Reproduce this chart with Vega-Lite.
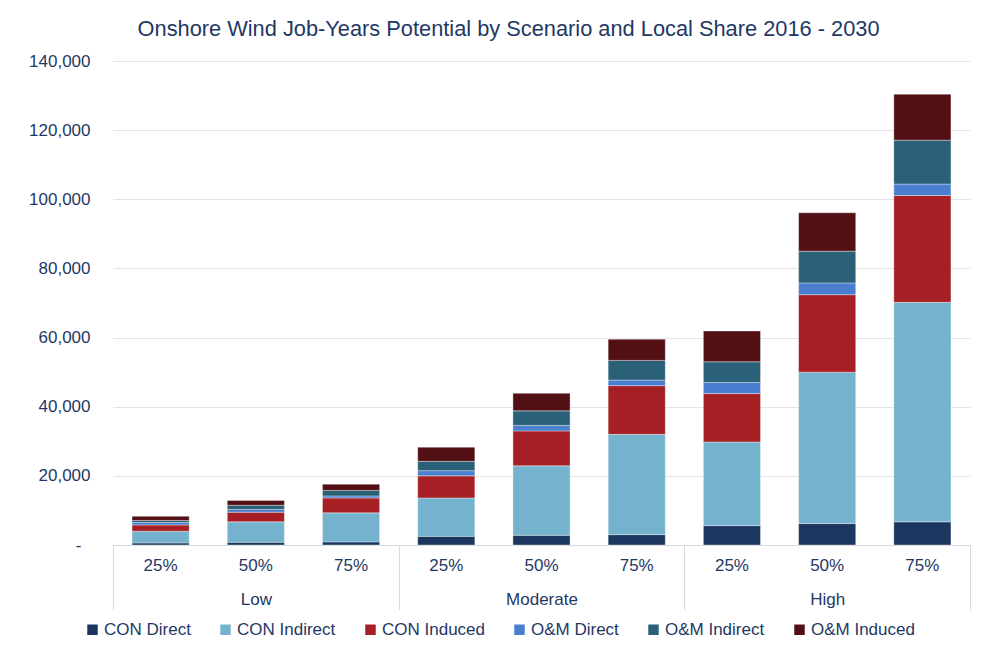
{
  "$schema": "https://vega.github.io/schema/vega-lite/v6.json",
  "autosize": {"type": "none"},
  "width": 857,
  "height": 484,
  "padding": {"left": 113, "top": 61, "right": 17, "bottom": 103},
  "background": "white",
  "title": {
    "text": "Onshore Wind Job-Years Potential by Scenario and Local Share 2016 - 2030",
    "anchor": "start",
    "dx": 109,
    "offset": 11,
    "font": "Liberation Sans",
    "fontSize": 21.8,
    "fontWeight": "normal",
    "color": "#1f3864"
  },
  "data": {
    "values": [
      {"scenario": "Low", "share": "25%", "type": "CON Direct", "jobs": 600},
      {"scenario": "Low", "share": "25%", "type": "CON Indirect", "jobs": 3400},
      {"scenario": "Low", "share": "25%", "type": "CON Induced", "jobs": 1800},
      {"scenario": "Low", "share": "25%", "type": "O&M Direct", "jobs": 700},
      {"scenario": "Low", "share": "25%", "type": "O&M Indirect", "jobs": 600},
      {"scenario": "Low", "share": "25%", "type": "O&M Induced", "jobs": 1200},
      {"scenario": "Low", "share": "50%", "type": "CON Direct", "jobs": 800},
      {"scenario": "Low", "share": "50%", "type": "CON Indirect", "jobs": 5900},
      {"scenario": "Low", "share": "50%", "type": "CON Induced", "jobs": 2800},
      {"scenario": "Low", "share": "50%", "type": "O&M Direct", "jobs": 800},
      {"scenario": "Low", "share": "50%", "type": "O&M Indirect", "jobs": 1200},
      {"scenario": "Low", "share": "50%", "type": "O&M Induced", "jobs": 1400},
      {"scenario": "Low", "share": "75%", "type": "CON Direct", "jobs": 900},
      {"scenario": "Low", "share": "75%", "type": "CON Indirect", "jobs": 8400},
      {"scenario": "Low", "share": "75%", "type": "CON Induced", "jobs": 4300},
      {"scenario": "Low", "share": "75%", "type": "O&M Direct", "jobs": 600},
      {"scenario": "Low", "share": "75%", "type": "O&M Indirect", "jobs": 1600},
      {"scenario": "Low", "share": "75%", "type": "O&M Induced", "jobs": 1800},
      {"scenario": "Moderate", "share": "25%", "type": "CON Direct", "jobs": 2500},
      {"scenario": "Moderate", "share": "25%", "type": "CON Indirect", "jobs": 11100},
      {"scenario": "Moderate", "share": "25%", "type": "CON Induced", "jobs": 6400},
      {"scenario": "Moderate", "share": "25%", "type": "O&M Direct", "jobs": 1500},
      {"scenario": "Moderate", "share": "25%", "type": "O&M Indirect", "jobs": 2700},
      {"scenario": "Moderate", "share": "25%", "type": "O&M Induced", "jobs": 4100},
      {"scenario": "Moderate", "share": "50%", "type": "CON Direct", "jobs": 2800},
      {"scenario": "Moderate", "share": "50%", "type": "CON Indirect", "jobs": 20100},
      {"scenario": "Moderate", "share": "50%", "type": "CON Induced", "jobs": 10100},
      {"scenario": "Moderate", "share": "50%", "type": "O&M Direct", "jobs": 1600},
      {"scenario": "Moderate", "share": "50%", "type": "O&M Indirect", "jobs": 4200},
      {"scenario": "Moderate", "share": "50%", "type": "O&M Induced", "jobs": 5100},
      {"scenario": "Moderate", "share": "75%", "type": "CON Direct", "jobs": 3000},
      {"scenario": "Moderate", "share": "75%", "type": "CON Indirect", "jobs": 29000},
      {"scenario": "Moderate", "share": "75%", "type": "CON Induced", "jobs": 14100},
      {"scenario": "Moderate", "share": "75%", "type": "O&M Direct", "jobs": 1600},
      {"scenario": "Moderate", "share": "75%", "type": "O&M Indirect", "jobs": 5700},
      {"scenario": "Moderate", "share": "75%", "type": "O&M Induced", "jobs": 6100},
      {"scenario": "High", "share": "25%", "type": "CON Direct", "jobs": 5600},
      {"scenario": "High", "share": "25%", "type": "CON Indirect", "jobs": 24200},
      {"scenario": "High", "share": "25%", "type": "CON Induced", "jobs": 14000},
      {"scenario": "High", "share": "25%", "type": "O&M Direct", "jobs": 3200},
      {"scenario": "High", "share": "25%", "type": "O&M Indirect", "jobs": 6000},
      {"scenario": "High", "share": "25%", "type": "O&M Induced", "jobs": 8900},
      {"scenario": "High", "share": "50%", "type": "CON Direct", "jobs": 6200},
      {"scenario": "High", "share": "50%", "type": "CON Indirect", "jobs": 43800},
      {"scenario": "High", "share": "50%", "type": "CON Induced", "jobs": 22400},
      {"scenario": "High", "share": "50%", "type": "O&M Direct", "jobs": 3400},
      {"scenario": "High", "share": "50%", "type": "O&M Indirect", "jobs": 9200},
      {"scenario": "High", "share": "50%", "type": "O&M Induced", "jobs": 11100},
      {"scenario": "High", "share": "75%", "type": "CON Direct", "jobs": 6700},
      {"scenario": "High", "share": "75%", "type": "CON Indirect", "jobs": 63500},
      {"scenario": "High", "share": "75%", "type": "CON Induced", "jobs": 30900},
      {"scenario": "High", "share": "75%", "type": "O&M Direct", "jobs": 3300},
      {"scenario": "High", "share": "75%", "type": "O&M Indirect", "jobs": 12700},
      {"scenario": "High", "share": "75%", "type": "O&M Induced", "jobs": 13300}
    ]
  },
  "transform": [
    {"calculate": "datum.scenario + '|' + datum.share", "as": "key"}
  ],
  "layer": [
    {
      "mark": {"type": "bar", "stroke": "#ffffff", "strokeWidth": 0.6, "strokeOpacity": 0.6},
      "encoding": {
        "x": {
          "field": "key",
          "type": "nominal",
          "scale": {
            "domain": ["Low|25%", "Low|50%", "Low|75%", "Moderate|25%", "Moderate|50%", "Moderate|75%", "High|25%", "High|50%", "High|75%"],
            "paddingInner": 0.4,
            "paddingOuter": 0.2
          },
          "axis": {
            "title": null,
            "labelExpr": "split(datum.value, '|')[1]",
            "labelAngle": 0,
            "ticks": false,
            "domain": true,
            "domainColor": "#d9d9d9",
            "domainWidth": 1,
            "labelPadding": 12,
            "labelFont": "Liberation Sans",
            "labelFontSize": 17,
            "labelColor": "#1f3864"
          }
        },
        "y": {
          "field": "jobs",
          "type": "quantitative",
          "aggregate": "sum",
          "stack": "zero",
          "scale": {"domain": [0, 140000], "nice": false},
          "axis": {
            "title": null,
            "values": [0, 20000, 40000, 60000, 80000, 100000, 120000, 140000],
            "labelExpr": "datum.value == 0 ? '-' : format(datum.value, ',')",
            "domain": false,
            "ticks": false,
            "grid": true,
            "gridColor": "#e3e3e8",
            "gridWidth": 1.2,
            "labelPadding": {"condition": {"test": "datum.value == 0", "value": 32}, "value": 23},
            "labelFont": "Liberation Sans",
            "labelFontSize": 17,
            "labelColor": "#1f3864"
          }
        },
        "color": {
          "field": "type",
          "type": "nominal",
          "sort": ["CON Direct", "CON Indirect", "CON Induced", "O&M Direct", "O&M Indirect", "O&M Induced"],
          "scale": {
            "domain": ["CON Direct", "CON Indirect", "CON Induced", "O&M Direct", "O&M Indirect", "O&M Induced"],
            "range": ["#1b365f", "#74b2cd", "#a61f24", "#4a7ece", "#2a6078", "#521014"]
          },
          "legend": {
            "title": null,
            "orient": "none",
            "legendX": -29,
            "legendY": 560,
            "direction": "horizontal",
            "columns": 6,
            "symbolType": "square",
            "symbolSize": 110,
            "symbolStrokeWidth": 0,
            "labelOffset": 3,
            "columnPadding": 26,
            "labelFont": "Liberation Sans",
            "labelFontSize": 17,
            "labelColor": "#1f3864"
          }
        },
        "order": {"field": "type", "sort": "ascending"}
      }
    },
    {
      "mark": {"type": "point", "opacity": 0},
      "encoding": {
        "x": {
          "field": "scenario",
          "type": "nominal",
          "scale": {"domain": ["Low", "Moderate", "High"], "paddingInner": 0, "paddingOuter": 0},
          "axis": {
            "title": null,
            "orient": "bottom",
            "labelAngle": 0,
            "domain": false,
            "tickBand": "extent",
            "ticks": true,
            "tickSize": 65,
            "tickColor": "#d9d9d9",
            "tickWidth": 1,
            "labelPadding": -19,
            "labelFont": "Liberation Sans",
            "labelFontSize": 17,
            "labelColor": "#1f3864"
          }
        },
        "y": {"field": "jobs", "type": "quantitative"}
      }
    }
  ],
  "resolve": {"scale": {"x": "independent"}, "axis": {"x": "independent"}},
  "config": {"view": {"stroke": null}}
}
